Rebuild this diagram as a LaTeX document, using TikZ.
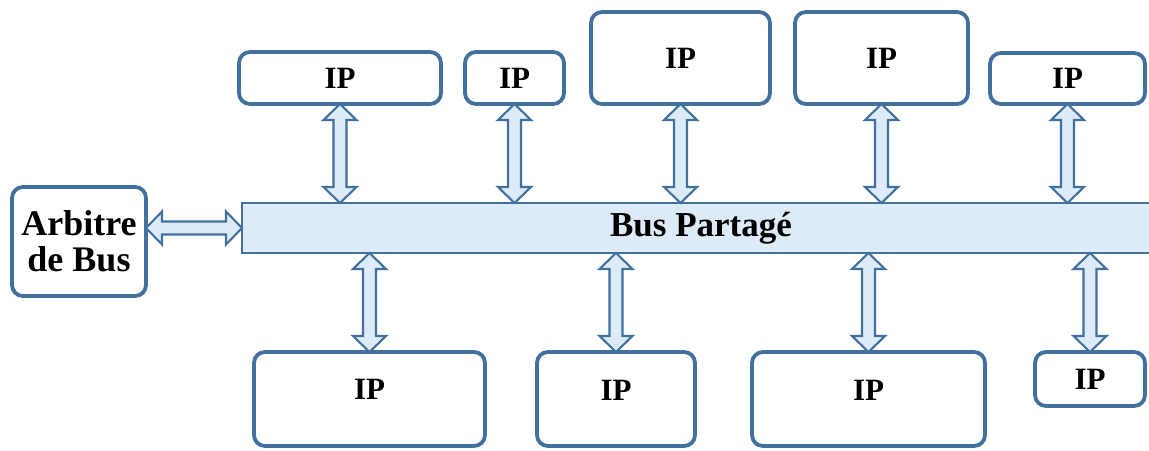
\documentclass[tikz,border=0pt]{standalone}
\usepackage{fontspec}
\setmainfont{Liberation Serif}
\usetikzlibrary{positioning, calc}
\definecolor{boxline}{RGB}{65,113,156}
\definecolor{busfill}{RGB}{221,234,247}

\begin{document}
\begin{tikzpicture}[x=1pt, y=-1pt,
  box/.style={draw=boxline, line width=3.8pt, rounded corners=11pt, fill=white, inner sep=0pt, outer sep=0pt, align=center, font=\fontsize{31}{36}\selectfont\bfseries},
  bus/.style={draw=boxline, line width=2pt, fill=busfill, inner sep=0pt, outer sep=0pt, font=\fontsize{35}{40}\selectfont\bfseries},
  fat/.style={draw=boxline, fill=busfill, line width=2.1pt, line join=miter,
    to path={-- ($(\tikztostart)!16pt!(\tikztotarget)!16.5pt!90:(\tikztotarget)$)
      -- ($(\tikztostart)!16pt!(\tikztotarget)!6.5pt!90:(\tikztotarget)$)
      -- ($(\tikztotarget)!16pt!(\tikztostart)!6.5pt!-90:(\tikztostart)$)
      -- ($(\tikztotarget)!16pt!(\tikztostart)!16.5pt!-90:(\tikztostart)$)
      -- (\tikztotarget)
      -- ($(\tikztotarget)!16pt!(\tikztostart)!16.5pt!90:(\tikztostart)$)
      -- ($(\tikztotarget)!16pt!(\tikztostart)!6.5pt!90:(\tikztostart)$)
      -- ($(\tikztostart)!16pt!(\tikztotarget)!6.5pt!-90:(\tikztotarget)$)
      -- ($(\tikztostart)!16pt!(\tikztotarget)!16.5pt!-90:(\tikztotarget)$)
      -- cycle}}
]
  \fill[white] (0,0) rectangle (1149,450);
  \useasboundingbox (0,0) rectangle (1149,450);

  \node[bus, minimum width=918pt, minimum height=50pt] (bus) at (701,228) {Bus Partagé};
  \node[box, minimum width=134pt, minimum height=109pt, font=\fontsize{36}{36}\selectfont\bfseries] (arb) at (79,241.5) {Arbitre\\de Bus};

  \node[box, minimum width=202pt, minimum height=52pt] (ip1) at (340,78) {IP};
  \node[box, minimum width=99pt, minimum height=52pt] (ip2) at (514.5,78) {IP};
  \node[box, minimum width=179pt, minimum height=92pt] (ip3) at (680.5,58) {IP};
  \node[box, minimum width=173pt, minimum height=92pt] (ip4) at (881.5,58) {IP};
  \node[box, minimum width=155pt, minimum height=51pt] (ip5) at (1067.5,78.5) {IP};

  \node[box, minimum width=231pt, minimum height=94pt, text depth=20pt] (ip6) at (369.5,399) {IP};
  \node[box, minimum width=158pt, minimum height=94pt, text depth=18pt] (ip7) at (616,399) {IP};
  \node[box, minimum width=233pt, minimum height=94pt, text depth=18pt] (ip8) at (868.5,399) {IP};
  \node[box, minimum width=110pt, minimum height=54pt] (ip9) at (1090,379) {IP};

  \draw[fat] (arb.east |- bus.west) to (bus.west);
  \foreach \ip in {ip1, ip2, ip3, ip4, ip5}
    \draw[fat] (\ip.south) to (\ip.south |- bus.north);
  \foreach \ip in {ip6, ip7, ip8, ip9}
    \draw[fat] (\ip.north |- bus.south) to (\ip.north);
\end{tikzpicture}
\end{document}
